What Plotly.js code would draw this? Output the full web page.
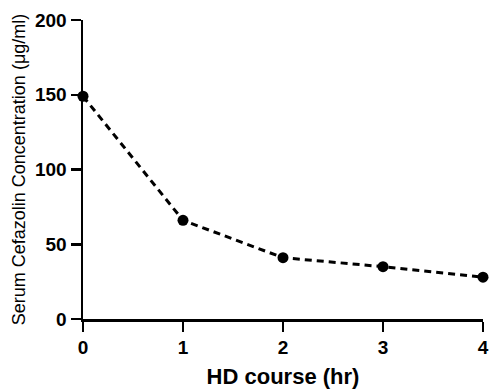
<!DOCTYPE html>
<html><head><meta charset="utf-8">
<script src="https://cdn.plot.ly/plotly-3.0.1.min.js"></script>
<style>html,body{margin:0;padding:0;background:#fff}#chart{width:490px;height:389px}</style>
</head><body><div id="chart"></div>
<script>
const hours = [0, 1, 2, 3, 4];
const concentration = [149, 66, 41, 35, 28];
const xTicks = [0, 1, 2, 3, 4];
const yTicks = [0, 50, 100, 150, 200];

const trace = {
  x: hours, y: concentration, type: 'scatter', mode: 'lines+markers',
  line: {color: '#000', width: 3, dash: '7px,5px'},
  marker: {color: '#000', size: 11},
  cliponaxis: false, showlegend: false
};
const fam = 'Liberation Sans, Arial, sans-serif';
const layout = {
  width: 490, height: 389,
  margin: {l: 83, r: 7, t: 20, b: 70},
  paper_bgcolor: '#fff', plot_bgcolor: '#fff',
  font: {family: fam, color: '#000'},
  xaxis: {
    range: [0, 4], tickvals: xTicks, ticktext: xTicks.map(v => '<b>' + v + '</b>'),
    showgrid: false, zeroline: false, showline: true, linecolor: '#000', linewidth: 2.5,
    ticks: 'outside', ticklen: 10, tickwidth: 2.5, tickcolor: '#000',
    tickfont: {family: fam, size: 19, color: '#000'},
    title: {text: '<b>HD course (hr)</b>', font: {family: fam, size: 22, color: '#000'}, standoff: 12}
  },
  yaxis: {
    range: [0, 200], tickvals: yTicks, ticktext: yTicks.map(v => '<b>' + v + '</b>'),
    showgrid: false, zeroline: false, showline: true, linecolor: '#000', linewidth: 2.5,
    ticks: 'outside', ticklen: 10, tickwidth: 2.5, tickcolor: '#000',
    tickfont: {family: fam, size: 19, color: '#000'},
    title: {text: 'Serum Cefazolin Concentration (μg/ml)', font: {family: fam, size: 18, color: '#000'}, standoff: 5}
  }
};
Plotly.newPlot('chart', [trace], layout, {staticPlot: true, displayModeBar: false});
</script></body></html>
